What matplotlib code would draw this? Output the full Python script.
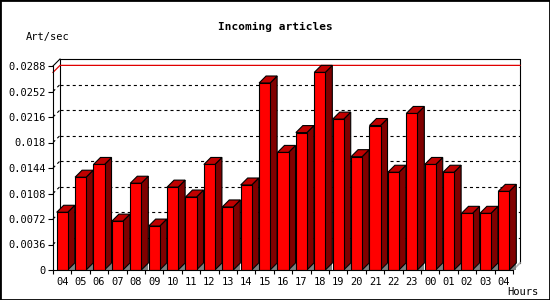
import matplotlib
matplotlib.use("Agg")
import matplotlib.pyplot as plt
from matplotlib.patches import Polygon, Rectangle
import numpy as np

plt.rcParams['lines.scale_dashes'] = False

hours = ["04", "05", "06", "07", "08", "09", "10", "11", "12", "13", "14", "15",
         "16", "17", "18", "19", "20", "21", "22", "23", "00", "01", "02", "03", "04"]
rates = [0.00815, 0.0131, 0.0149, 0.0069, 0.01225, 0.0062, 0.0117, 0.0103,
         0.0149, 0.0089, 0.0120, 0.0264, 0.0166, 0.0194, 0.0279, 0.0213,
         0.0160, 0.0204, 0.0138, 0.0221, 0.0149, 0.0138, 0.0080, 0.0080, 0.0111]
yticks = [0, 0.0036, 0.0072, 0.0108, 0.0144, 0.018, 0.0216, 0.0252, 0.0288]
ytick_labels = ["0", "0.0036", "0.0072", "0.0108", "0.0144", "0.018", "0.0216", "0.0252", "0.0288"]

FONT = "DejaVu Sans Mono"
W, H = 550, 300
fig = plt.figure(figsize=(5.5, 3), dpi=100)
fig.patch.set_facecolor("white")
fig.add_artist(Rectangle((0, 0), 1, 1, transform=fig.transFigure, fill=False,
                         edgecolor="black", lw=2))

ax = fig.add_axes([53 / W, 30 / H, 460 / W, 204 / H])
n = len(rates)
ax.set_xlim(-0.5, n - 0.5)
ax.set_ylim(yticks[0], yticks[-1])
ax.patch.set_alpha(0)
for s in ["top", "right"]:
    ax.spines[s].set_visible(False)
for s in ["left", "bottom"]:
    ax.spines[s].set_linewidth(0.8)
    ax.spines[s].set_zorder(6)

# depth offset (7 px) converted to data units
px_x = 460 / (n)
px_y = 204 / (yticks[-1] - yticks[0])
dx = 7 / px_x
dy = 7 / px_y
x0, x1 = -0.5, n - 0.5
ytop = yticks[-1]

# back wall
ax.add_patch(Polygon([(x0 + dx, dy), (x1 + dx, dy), (x1 + dx, ytop + dy), (x0 + dx, ytop + dy)],
                     closed=True, facecolor="white", edgecolor="none", zorder=0, clip_on=False))
ax.plot([x0 + dx, x0 + dx, x1 + dx, x1 + dx], [dy, ytop + dy, ytop + dy, dy],
        color="black", lw=0.8, zorder=1, clip_on=False)
ax.plot([x0, x0 + dx], [ytop, ytop + dy], color="black", lw=0.8, zorder=1, clip_on=False)
ax.plot([x1, x1 + dx], [0, dy], color="#b0b0b0", lw=1.2, zorder=1, clip_on=False)

# grid lines on back wall and side
for v in yticks[1:-1]:
    ax.plot([x0 + dx, x1 + dx], [v + dy, v + dy], color="black", lw=0.8,
            dashes=(2.2, 2.2), zorder=1, clip_on=False)
    ax.plot([x0, x0 + dx], [v, v + dy], color="black", lw=0.8,
            dashes=(2.2, 2.2), zorder=1, clip_on=False)

# max line
vmax = max(rates)
ax.plot([x0, x0 + dx, x1 + dx], [vmax, vmax + dy, vmax + dy], color="#e00000",
        lw=0.9, zorder=1.5, clip_on=False)

# bars
bw = 0.6
xs = np.arange(n)
for i, v in zip(xs, rates):
    xl, xr = i - bw / 2, i + bw / 2
    ax.add_patch(Polygon([(xr, 0), (xr + dx, 0), (xr + dx, dy)], closed=True,
                         facecolor="#808080", edgecolor="none", zorder=2, clip_on=False))
    ax.add_patch(Polygon([(xr, 0), (xr + dx, dy), (xr + dx, v + dy), (xr, v)], closed=True,
                         facecolor="#800000", edgecolor="black", lw=0.8, zorder=3, clip_on=False))
    ax.add_patch(Polygon([(xl, v), (xr, v), (xr + dx, v + dy), (xl + dx, v + dy)], closed=True,
                         facecolor="#c00000", edgecolor="black", lw=0.8, zorder=3, clip_on=False))
ax.bar(xs, rates, width=bw, color="#ff0000", edgecolor="black", linewidth=0.8, zorder=4)

# ticks
ax.set_yticks(yticks)
ax.set_yticklabels(ytick_labels, fontfamily=FONT, fontsize=7.5)
ax.tick_params(axis="y", direction="out", length=3.6, width=0.8, pad=1.5)
ax.set_xticks(xs)
ax.set_xticklabels(hours, fontfamily=FONT, fontsize=7.5)
ax.set_xticks(np.arange(-0.5, n), minor=True)
ax.tick_params(axis="x", which="major", length=0, pad=5)
ax.tick_params(axis="x", which="minor", direction="out", length=3, width=0.8)

fig.text(275 / W, 1 - 27 / H, "Incoming articles", ha="center", va="center",
         fontfamily=FONT, fontsize=8, fontweight="bold")
fig.text(48 / W, 1 - 37 / H, "Art/sec", ha="center", va="center",
         fontfamily=FONT, fontsize=7.5)
fig.text(523 / W, 1 - 292 / H, "Hours", ha="center", va="center",
         fontfamily=FONT, fontsize=7.5)

fig.savefig("out.png", dpi=100, facecolor="white")
